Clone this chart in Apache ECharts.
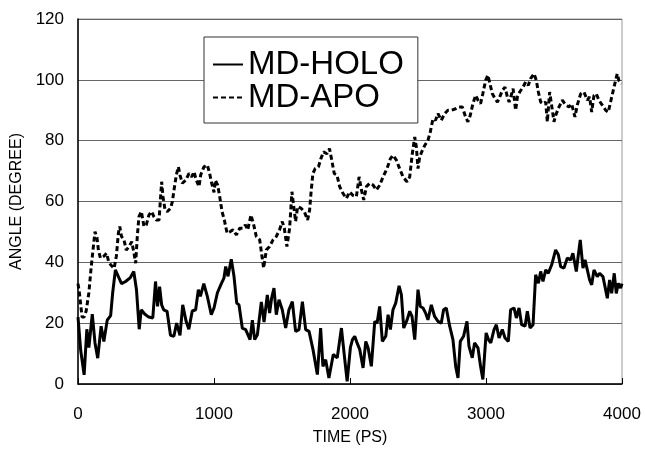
<!DOCTYPE html>
<html>
<head>
<meta charset="utf-8">
<script src="https://cdn.jsdelivr.net/npm/echarts@6/dist/echarts.min.js"></script>
<style>
    html, body { margin: 0; padding: 0; background: #fff; }
    #chart { width: 645px; height: 451px; }
</style>
</head>
<body>
<div id="chart"></div>
<script>
// MD-HOLO (solid)
const holoTime = [0, 20, 45, 65, 80, 105, 125, 145, 170, 190, 215, 240, 255, 275, 290, 320, 350, 385, 410, 430,
    450, 465, 490, 520, 550, 570, 585, 600, 615, 630, 655, 680, 705, 725, 750, 770, 795, 815, 840, 865,
    885, 900, 925, 950, 980, 1000, 1025, 1054, 1073, 1086, 1103, 1127, 1147, 1167, 1184, 1208, 1233, 1245, 1265, 1282,
    1299, 1319, 1348, 1368, 1392, 1409, 1424, 1441, 1458, 1478, 1502, 1527, 1551, 1576, 1600, 1625, 1650, 1674, 1699, 1728,
    1760, 1784, 1801, 1821, 1845, 1877, 1906, 1937, 1959, 1979, 2003, 2018, 2035, 2052, 2072, 2096, 2116, 2133, 2157, 2182,
    2199, 2218, 2238, 2263, 2280, 2297, 2316, 2336, 2361, 2378, 2395, 2420, 2439, 2456, 2476, 2500, 2517, 2537, 2556, 2573,
    2598, 2622, 2647, 2671, 2688, 2708, 2733, 2757, 2777, 2794, 2811, 2835, 2860, 2875, 2899, 2916, 2941, 2960, 2977, 3001,
    3018, 3035, 3059, 3076, 3096, 3120, 3140, 3164, 3181, 3206, 3223, 3243, 3262, 3287, 3304, 3324, 3346, 3365, 3385, 3402,
    3419, 3439, 3458, 3483, 3512, 3532, 3549, 3573, 3598, 3622, 3639, 3664, 3679, 3693, 3713, 3728, 3745, 3762, 3777, 3794,
    3818, 3835, 3860, 3875, 3892, 3909, 3924, 3943, 3958, 3973, 3990, 4000];
const holoAngle = [22, 11, 3, 18, 12, 23, 13.5, 8.5, 19, 14, 21, 22.5, 30, 37.5, 36, 33, 33.7, 35, 37, 31,
    18, 24.4, 23, 22, 21.7, 33.7, 25.5, 32, 26, 24.4, 23.9, 16, 15.7, 20, 16, 26, 20.6, 18, 24, 24.4,
    31, 28.8, 33, 29, 22.8, 25, 30, 33, 34.8, 38.6, 35.4, 41, 35.4, 26.6, 26, 18.4, 17.9, 18.4, 14.6, 21,
    14.6, 16.2, 27, 20.4, 29.3, 23.3, 28.3, 31.5, 22.8, 27.7, 24.4, 18.4, 24.4, 27.1, 17.3, 17.9, 27.1, 17.9, 17.3, 11.3,
    3.1, 18.4, 5.8, 8, 2, 9.7, 8.6, 18.4, 9.1, 0.9, 12, 14.6, 15.7, 13.5, 11.3, 5.3, 14, 11.9, 5.8, 20.6,
    20, 25.5, 14, 15.7, 22.8, 17.9, 24.4, 26.6, 32.3, 29.3, 18.4, 21.1, 23.9, 22.2, 14.6, 31, 25.5, 25, 23.3, 21.1,
    26, 22.2, 20.6, 20, 24.4, 25, 19, 14.6, 5.8, 2, 14, 15.7, 20.6, 12.4, 8.6, 13.5, 11.9, 5.8, 1.5, 16.8,
    14.6, 13.5, 17.9, 19.5, 15.1, 17.9, 15.1, 14, 24.4, 25, 21.7, 25, 19.5, 19, 23.9, 18.4, 19.5, 35.9, 33.1, 37,
    33.7, 37.5, 36.4, 39.2, 44.1, 42.5, 38.6, 38.1, 41.4, 40.8, 43, 37, 42.5, 47.4, 38.1, 40.8, 37.5, 34.2, 32.6, 37.5,
    35.3, 36.4, 35.3, 32, 28.2, 34.2, 29.8, 36.4, 29.8, 33.1, 31.5, 33];

// MD-APO (dashed)
const apoTime = [0, 10, 30, 45, 60, 80, 95, 110, 125, 140, 150, 165, 190, 210, 225, 240, 265, 282, 297, 307,
    320, 338, 355, 375, 395, 412, 424, 436, 448, 466, 485, 502, 522, 541, 558, 576, 596, 615, 625, 640,
    657, 681, 694, 706, 723, 738, 750, 767, 792, 816, 836, 853, 870, 890, 902, 926, 951, 968, 983, 1000,
    1010, 1027, 1042, 1059, 1076, 1096, 1120, 1140, 1165, 1189, 1213, 1231, 1248, 1272, 1292, 1311, 1336, 1353, 1365, 1385,
    1409, 1434, 1458, 1482, 1502, 1517, 1536, 1556, 1573, 1585, 1600, 1615, 1639, 1664, 1688, 1703, 1713, 1727, 1744, 1768,
    1786, 1805, 1830, 1849, 1866, 1884, 1904, 1924, 1948, 1973, 1998, 2022, 2047, 2067, 2084, 2101, 2121, 2145, 2170, 2194,
    2219, 2243, 2272, 2297, 2316, 2341, 2365, 2390, 2419, 2439, 2458, 2476, 2488, 2500, 2512, 2532, 2549, 2573, 2590, 2610,
    2629, 2647, 2671, 2696, 2720, 2745, 2777, 2801, 2826, 2850, 2867, 2884, 2904, 2924, 2941, 2960, 2977, 2997, 3014, 3035,
    3047, 3067, 3084, 3101, 3120, 3140, 3157, 3170, 3189, 3199, 3218, 3231, 3248, 3272, 3292, 3311, 3328, 3353, 3370, 3385,
    3402, 3419, 3439, 3451, 3468, 3481, 3500, 3512, 3537, 3561, 3586, 3610, 3630, 3654, 3671, 3696, 3720, 3745, 3762, 3777,
    3794, 3811, 3830, 3855, 3880, 3899, 3916, 3933, 3953, 3965, 3977, 3997];
const apoAngle = [33, 30, 22, 22, 24, 30, 37.5, 44, 50.1, 48, 44, 41.4, 42, 43, 40.3, 39.2, 38, 42, 49.6, 51.8,
    48.5, 47.4, 44, 45.2, 46.8, 43, 39.7, 48.5, 55, 56.7, 51.8, 52.3, 55.6, 56.7, 55, 53.9, 53.9, 66.5, 61.6, 57.2,
    56.7, 57.8, 60, 63.8, 68.7, 71.4, 68.7, 66, 67, 69.2, 68.1, 69.8, 67, 64.9, 68.7, 71.4, 72, 69.2, 66, 63,
    67, 65.4, 61.6, 56.7, 53.9, 49.6, 50.1, 50.7, 49, 51.2, 51.2, 52.3, 50.7, 55.6, 52.3, 48.5, 47.4, 41.9, 38.1, 44.1,
    45.2, 47.4, 48.5, 50.7, 53.4, 51.2, 45.2, 51.2, 63.2, 58.9, 53.4, 58.3, 57.8, 56.7, 53.9, 57.2, 62.7, 69.2, 70.8, 71.4,
    74.1, 76.3, 75.7, 77.4, 73.6, 69.2, 68.7, 64.9, 62.7, 61, 63.2, 62, 61.6, 68.1, 63.8, 60.5, 64.9, 66, 65.4, 63.8,
    65.4, 68.1, 70.8, 74.1, 75.2, 73.6, 70.8, 68.1, 66.5, 68.1, 75.7, 81.2, 77.9, 70.8, 74.6, 76.8, 78.4, 80.1, 82.8, 87.2,
    86.7, 88.9, 86.7, 88.9, 90, 90, 90.5, 91.1, 91.1, 87.8, 86.2, 88.3, 92.2, 94.9, 93.3, 92.2, 95.5, 99.8, 101.5, 97.6,
    95.4, 93.8, 92.7, 94.4, 96.5, 97.6, 94.4, 92.7, 95.4, 97.1, 90, 94.4, 96, 97.6, 99.3, 98.2, 100.4, 102, 99.8, 96,
    92.7, 92.1, 92.7, 86.2, 96, 92.1, 86.2, 88.3, 91.1, 93.3, 91.7, 91.1, 92.1, 87.8, 91.7, 95.4, 96, 93.3, 94.4, 89.4,
    94.9, 95.4, 93.3, 91.7, 90, 89.4, 92.7, 96, 99.8, 102, 99.8, 98.7];

const seriesNames = ["MD-HOLO", "MD-APO"];
const xTicks = [0, 1000, 2000, 3000, 4000];
const yTicks = [0, 20, 40, 60, 80, 100, 120];

const font = "Liberation Sans";
const chart = echarts.init(document.getElementById("chart"));
const option = {
    animation: false,
    textStyle: { fontFamily: font },
    grid: {
        left: 78, right: 23, top: 19, bottom: 66.5,
        show: true, borderColor: "#999", borderWidth: 1
    },
    legend: {
        left: 204, top: 37,
        orient: "vertical",
        backgroundColor: "#fff",
        borderColor: "#333", borderWidth: 1,
        padding: [11, 14, 9, 8],
        itemWidth: 30, itemHeight: 14, itemGap: 0,
        itemStyle: { opacity: 0 },
        lineStyle: { width: 2 },
        textStyle: { fontSize: 33, color: "#000", lineHeight: 33, fontFamily: font },
        data: seriesNames
    },
    xAxis: {
        type: "value",
        min: xTicks[0], max: xTicks[xTicks.length - 1], interval: 1000,
        name: "TIME (PS)",
        nameLocation: "middle", nameGap: 46,
        nameTextStyle: { fontSize: 16, color: "#000" },
        axisLine: { lineStyle: { color: "#000", width: 1.5 } },
        axisTick: { inside: true, length: 6, lineStyle: { color: "#000" } },
        axisLabel: { fontSize: 17, color: "#000", margin: 22, formatter: v => String(v) },
        splitLine: { show: false }
    },
    yAxis: {
        type: "value",
        min: yTicks[0], max: yTicks[yTicks.length - 1], interval: 20,
        name: "ANGLE (DEGREE)",
        nameLocation: "middle", nameGap: 46,
        nameTextStyle: { fontSize: 16, color: "#000" },
        axisLine: { show: true, lineStyle: { color: "#000", width: 1.5 } },
        axisTick: { show: false },
        axisLabel: { fontSize: 17, color: "#000", margin: 14 },
        splitLine: { lineStyle: { color: "#666", width: 1 } }
    },
    series: [
        {
            name: seriesNames[0],
            type: "line",
            symbol: "none",
            lineStyle: { color: "#000", width: 3 },
            itemStyle: { color: "#000" },
            data: holoTime.map((t, i) => [t, holoAngle[i]])
        },
        {
            name: seriesNames[1],
            type: "line",
            symbol: "none",
            lineStyle: { color: "#000", width: 3, type: [5, 3] },
            itemStyle: { color: "#000" },
            data: apoTime.map((t, i) => [t, apoAngle[i]])
        }
    ]
};
chart.setOption(option);
</script>
</body>
</html>
